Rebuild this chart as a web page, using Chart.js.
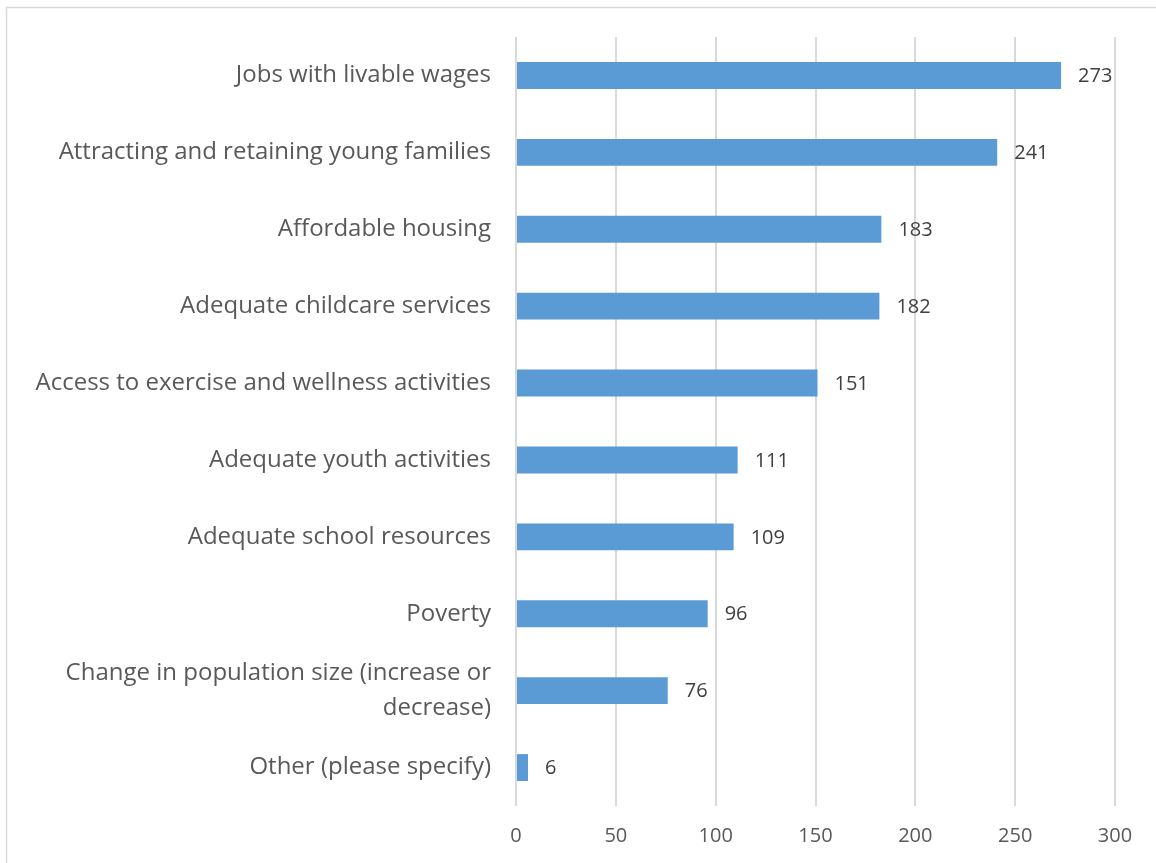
<!DOCTYPE html>
<html>
<head>
<meta charset="utf-8">
<script src="https://cdn.jsdelivr.net/npm/chart.js@4.4.0/dist/chart.umd.min.js"></script>
<style>
  html, body { margin: 0; padding: 0; background: #fff; }
  #wrap { width: 1156px; height: 863px; position: relative; }
</style>
</head>
<body>
<div id="wrap"><canvas id="myChart" width="1156" height="863"></canvas></div>
<script>
// data
const categories = [
  'Jobs with livable wages',
  'Attracting and retaining young families',
  'Affordable housing',
  'Adequate childcare services',
  'Access to exercise and wellness activities',
  'Adequate youth activities',
  'Adequate school resources',
  'Poverty',
  ['Change in population size (increase or', 'decrease)'],
  'Other (please specify)'
]
const responses = [273, 241, 183, 182, 151, 111, 109, 96, 76, 6]
const xTicks = [0, 50, 100, 150, 200, 250, 300]

const FONT = 'Open Sans'

// outer frame like the office chart border
const framePlugin = {
  id: 'frame',
  beforeDraw(chart) {
    const ctx = chart.ctx
    ctx.save()
    ctx.strokeStyle = '#d9d9d9'
    ctx.lineWidth = 1.5
    ctx.strokeRect(6.5, 7.5, 1170, 900)
    ctx.restore()
  }
}

// value labels at the end of each bar
const valueLabels = {
  id: 'valueLabels',
  afterDatasetsDraw(chart) {
    const ctx = chart.ctx
    const meta = chart.getDatasetMeta(0)
    ctx.save()
    ctx.fillStyle = '#404040'
    ctx.font = '20px "' + FONT + '"'
    ctx.textBaseline = 'middle'
    ctx.textAlign = 'left'
    meta.data.forEach((bar, i) => {
      ctx.fillText(String(responses[i]), bar.x + 17, bar.y + 1)
    })
    ctx.restore()
  }
}

new Chart(document.getElementById('myChart'), {
  type: 'bar',
  data: {
    labels: categories,
    datasets: [{
      data: responses,
      backgroundColor: '#5b9bd5',
      borderWidth: 0,
      categoryPercentage: 1,
      barPercentage: 0.35
    }]
  },
  options: {
    indexAxis: 'y',
    responsive: false,
    animation: false,
    layout: { padding: { top: 37, right: 41, left: 0, bottom: 0 } },
    plugins: {
      legend: { display: false },
      tooltip: { enabled: false }
    },
    scales: {
      x: {
        min: 0,
        max: 300,
        afterBuildTicks(scale) {
          scale.ticks = xTicks.map(v => ({ value: v }))
        },
        afterFit(scale) { scale.height = 57 },
        grid: { color: '#d9d9d9', lineWidth: 2, drawTicks: false },
        border: { display: false },
        ticks: {
          color: '#595959',
          font: { family: FONT, size: 20 },
          padding: 18
        }
      },
      y: {
        afterFit(scale) { scale.width = 516 },
        grid: { display: false },
        border: { display: false },
        ticks: {
          color: '#595959',
          font: { family: FONT, size: 24, lineHeight: 1.45 },
          padding: 17,
          autoSkip: false
        }
      }
    }
  },
  plugins: [framePlugin, valueLabels]
})
</script>
</body>
</html>
